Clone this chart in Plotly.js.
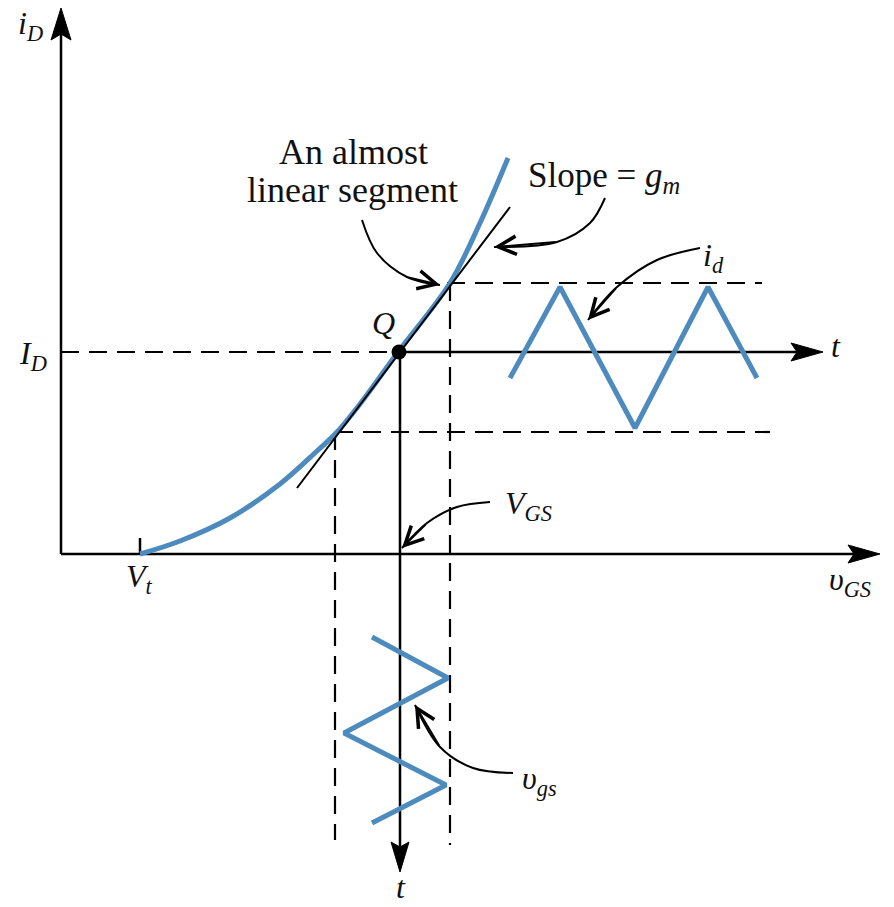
<!DOCTYPE html>
<html><head><meta charset="utf-8">
<script src="https://cdn.plot.ly/plotly-3.0.1.min.js"></script>
<style>html,body{margin:0;padding:0;background:#fff}</style>
</head><body><div id="chart" style="width:894px;height:907px"></div>
<script>
// Diagram coordinates (x to the right, y downward as in the drawing)
// MOSFET transfer characteristic iD(vGS)
const curveX = [140,180,230,280,317,337,363,398,450,480,508];
const curveY = [554,541,518,484,451,432,400,352,283,223,158];
// tangent (slope = gm) at Q
const tanX = [297,510];
const tanY = [488,207];
// Q point
const qX = [399];
const qY = [352];
// axes
const yAxisX = [61,61];   const yAxisY = [554,30];
const xAxisX = [61,855];  const xAxisY = [554,554];
const tHX = [399,800];    const tHY = [352,352];
const tVX = [400,400];    const tVY = [352,848];
const vtTickX = [140,140]; const vtTickY = [538,554];
// dashed guides
const idDashX = [61,398];  const idDashY = [352,352];
const upDashX = [447,762]; const upDashY = [283,283];
const loDashX = [335,770]; const loDashY = [432,432];
const lvDashX = [335,335]; const lvDashY = [432,840];
const rvDashX = [450,450]; const rvDashY = [283,845];
// signals
const idWaveX = [510,560,635,708,757];
const idWaveY = [378,287,428,287,378];
const vgsWaveX = [372,448,344,446,372];
const vgsWaveY = [637,678,733,785,823];
// arrow heads of axes (polygons)
const headYX = [61,51,61,71,61];      const headYY = [8,40,34,40,8];
const headXX = [880,848,854,848,880]; const headXY = [554,545,554,563,554];
const headTX = [823,791,797,791,823]; const headTY = [352,343,352,361,352];
const headVX = [400,391,400,409,400]; const headVY = [872,842,847,842,872];
// callout curves
const linArrX = [362,377,407,440]; const linArrY = [220,253,277,285];
const slopeArrX = [605,590,557,494]; const slopeArrY = [198,223,242,247];
const idArrX = [700,657,617,588];    const idArrY = [248,260,287,320];
const vgsArrX = [490,457,427,402];   const vgsArrY = [502,507,523,548];
const vgsSArrX = [513,473,440,415];  const vgsSArrY = [773,768,747,705];
// labels
const labels = [
  {t:'<i>i</i><sub><i>D</i></sub>', x:16, y:25, xa:'left', ya:'middle', s:32},
  {t:'An almost', x:353, y:152, xa:'center', ya:'middle', s:36},
  {t:'linear segment', x:352, y:190, xa:'center', ya:'middle', s:36},
  {t:'Slope = <i>g</i><sub><i>m</i></sub>', x:526, y:177, xa:'left', ya:'middle', s:35},
  {t:'<i>i</i><sub><i>d</i></sub>', x:701, y:257, xa:'left', ya:'middle', s:32},
  {t:'<i>Q</i>', x:383, y:323, xa:'center', ya:'middle', s:32},
  {t:'<i>I</i><sub><i>D</i></sub>', x:17, y:355, xa:'left', ya:'middle', s:32},
  {t:'<i>t</i>', x:836, y:346, xa:'center', ya:'middle', s:32},
  {t:'<i>V</i><sub><i>t</i></sub>', x:124, y:578, xa:'left', ya:'middle', s:32},
  {t:'<i>V</i><sub><i>GS</i></sub>', x:503, y:505, xa:'left', ya:'middle', s:32},
  {t:'<i>υ</i><sub><i>GS</i></sub>', x:827, y:581, xa:'left', ya:'middle', s:32},
  {t:'<i>υ</i><sub><i>gs</i></sub>', x:520, y:780, xa:'left', ya:'middle', s:32},
  {t:'<i>t</i>', x:401, y:907, xa:'center', ya:'bottom', s:32}
];

const BLUE = '#4d8bbf';
const FONT = '"Liberation Serif", "DejaVu Serif", "Times New Roman", Times, serif';
const traces = [];
function line(x, y, w, color, dash, shape) {
  traces.push({x:x, y:y, mode:'lines', type:'scatter', hoverinfo:'skip',
    line:{width:w, color:color, dash:dash||'solid', shape:shape||'linear'}});
}
function poly(x, y) {
  traces.push({x:x, y:y, mode:'lines', type:'scatter', fill:'toself',
    fillcolor:'#000', hoverinfo:'skip', line:{width:1, color:'#000'}});
}
const DASH = '18px,10px';
line(yAxisX, yAxisY, 2.5, '#000');
line(xAxisX, xAxisY, 2.5, '#000');
line(tHX, tHY, 2.5, '#000');
line(tVX, tVY, 2.5, '#000');
line(vtTickX, vtTickY, 2.5, '#000');
line(idDashX, idDashY, 2.2, '#000', DASH);
line(upDashX, upDashY, 2.2, '#000', DASH);
line(loDashX, loDashY, 2.2, '#000', DASH);
line(lvDashX, lvDashY, 2.2, '#000', DASH);
line(rvDashX, rvDashY, 2.2, '#000', DASH);
line(curveX, curveY, 5, BLUE, 'solid', 'spline');
line(tanX, tanY, 2, '#000');
line(idWaveX, idWaveY, 5, BLUE);
line(vgsWaveX, vgsWaveY, 5, BLUE);
line(linArrX, linArrY, 2, '#000', 'solid', 'spline');
line(slopeArrX, slopeArrY, 2, '#000', 'solid', 'spline');
line(idArrX, idArrY, 2, '#000', 'solid', 'spline');
line(vgsArrX, vgsArrY, 2, '#000', 'solid', 'spline');
line(vgsSArrX, vgsSArrY, 2, '#000', 'solid', 'spline');
poly(headYX, headYY);
poly(headXX, headXY);
poly(headTX, headTY);
poly(headVX, headVY);
traces.push({x:qX, y:qY, mode:'markers', type:'scatter', hoverinfo:'skip',
  marker:{size:15, color:'#000'}});

const annotations = labels.map(l => ({
  text:l.t, x:l.x, y:l.y, xref:'x', yref:'y', xanchor:l.xa, yanchor:l.ya,
  showarrow:false, font:{family:FONT, size:l.s, color:'#111'}
}));
// arrow heads of callouts: tip = last point, tail = previous point
[[linArrX,linArrY],[slopeArrX,slopeArrY],[idArrX,idArrY],[vgsArrX,vgsArrY],[vgsSArrX,vgsSArrY]].forEach(([ax, ay]) => {
  const n = ax.length;
  annotations.push({x:ax[n-1], y:ay[n-1], ax:ax[n-2], ay:ay[n-2], xref:'x', yref:'y',
    axref:'x', ayref:'y', showarrow:true, arrowhead:5, arrowwidth:2, arrowsize:1.8,
    arrowcolor:'#000', standoff:0, text:''});
});

const layout = {
  width:894, height:907, margin:{l:0, r:0, t:0, b:0},
  paper_bgcolor:'#fff', plot_bgcolor:'#fff', showlegend:false,
  font:{family:FONT},
  xaxis:{range:[0,894], visible:false, fixedrange:true},
  yaxis:{range:[907,0], visible:false, fixedrange:true},
  annotations:annotations
};
Plotly.newPlot('chart', traces, layout, {staticPlot:true, displayModeBar:false});
</script></body></html>
